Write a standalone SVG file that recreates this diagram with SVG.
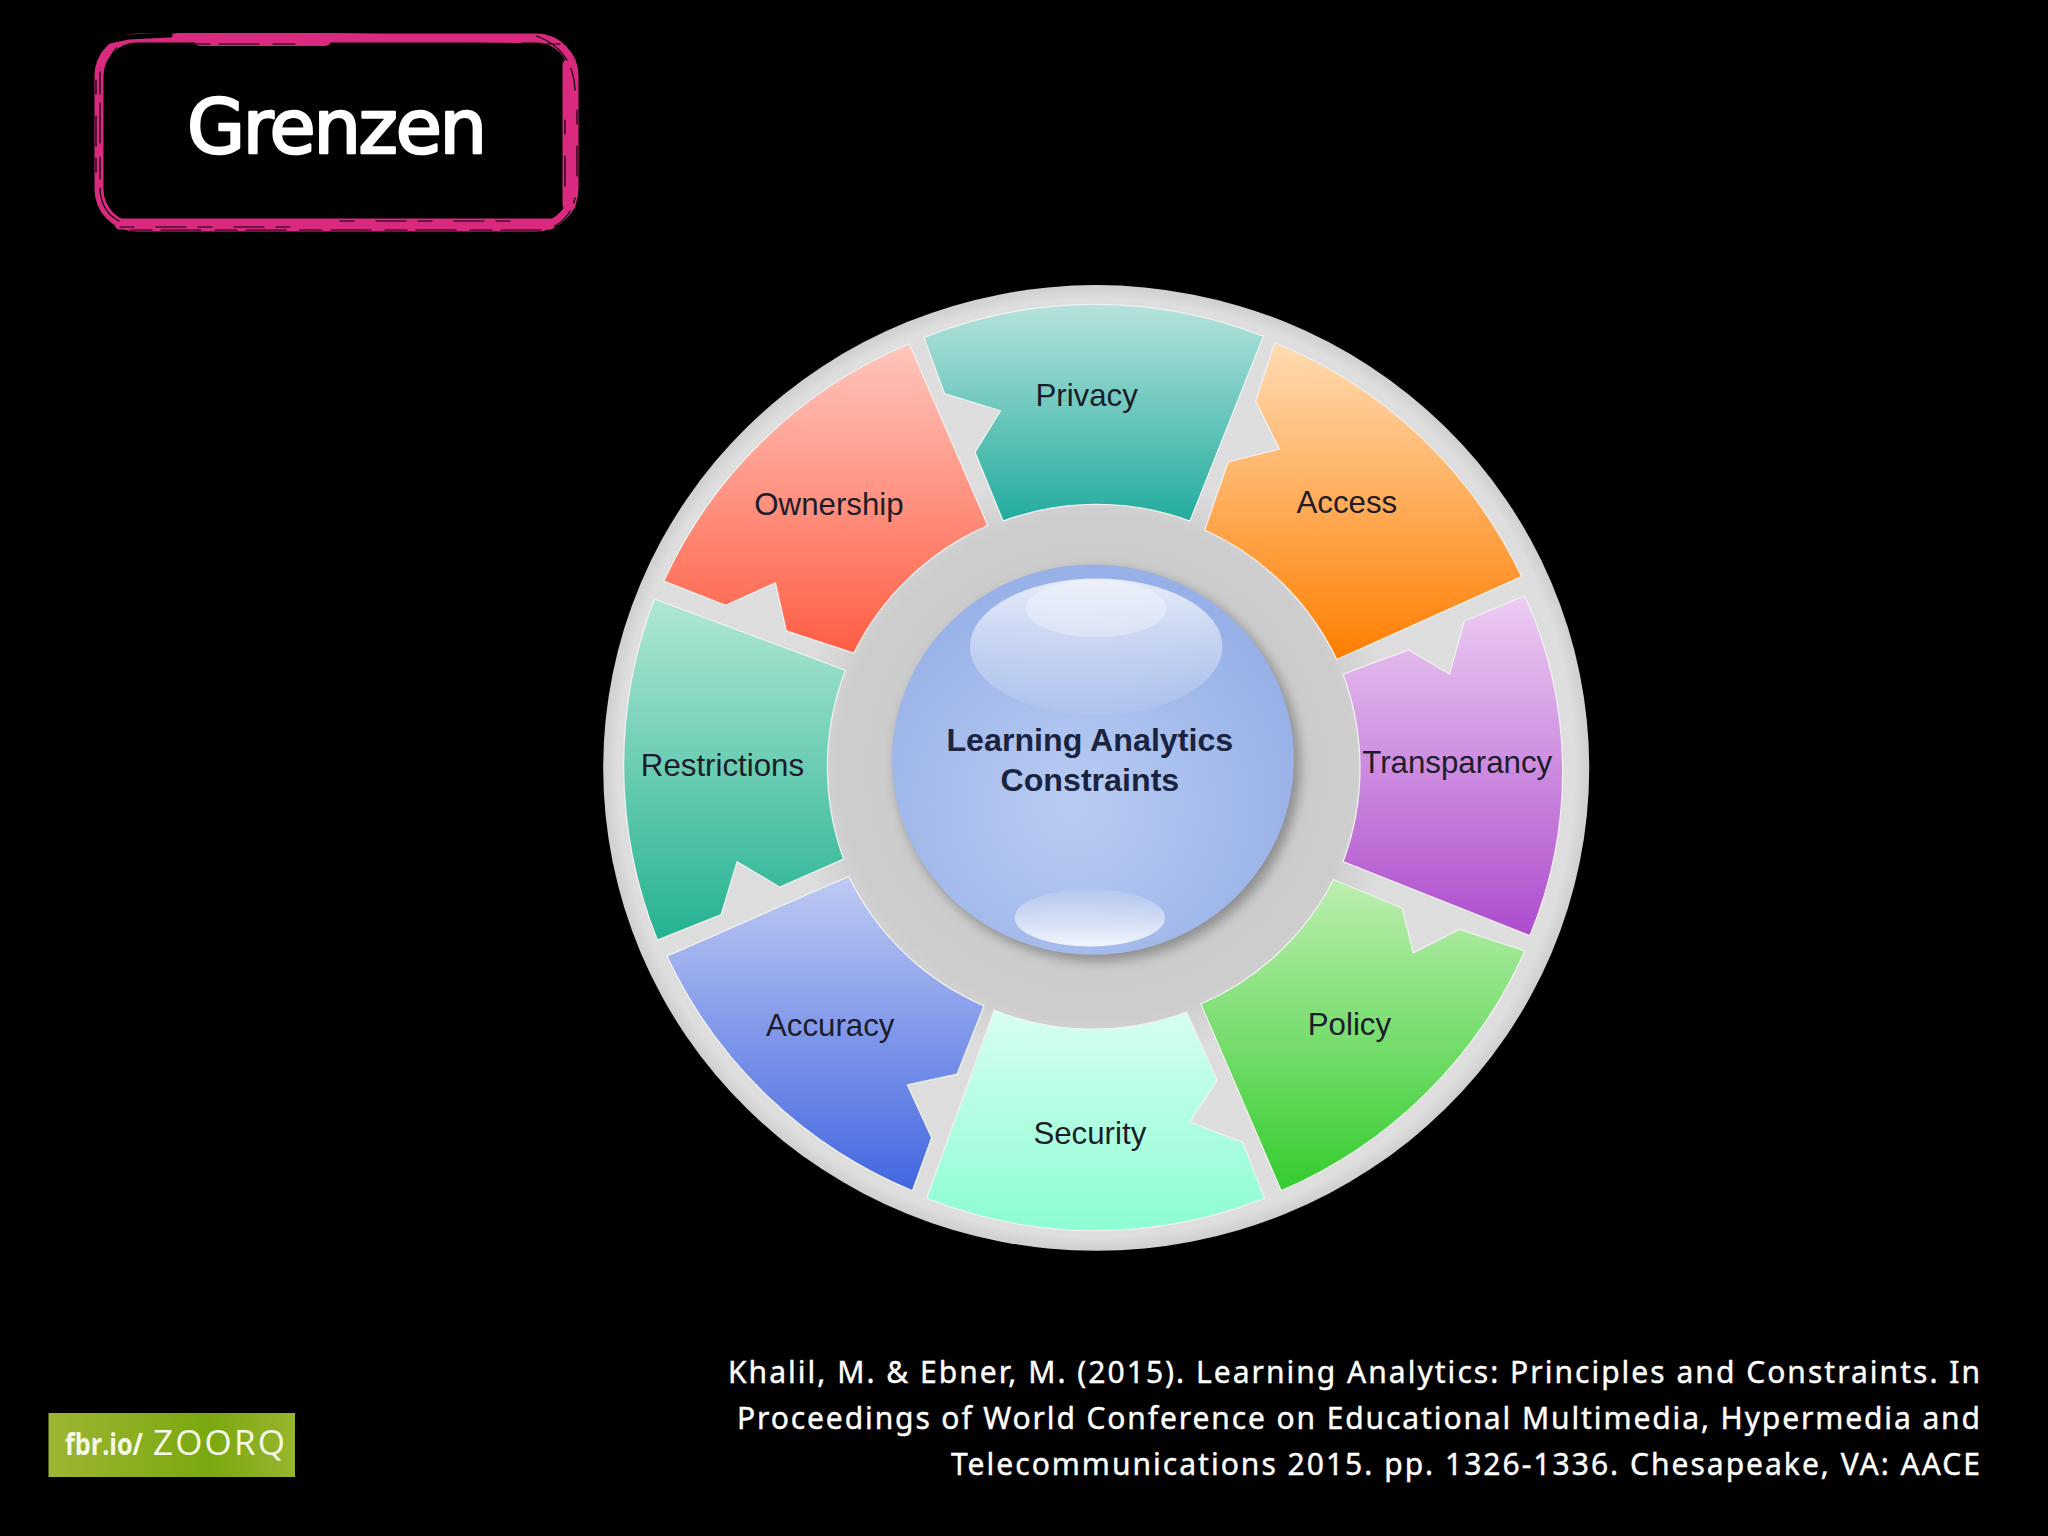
<svg xmlns="http://www.w3.org/2000/svg" width="2048" height="1536" viewBox="0 0 2048 1536">
<style>
.seg{stroke:#f0f0f0;stroke-width:2;stroke-linejoin:round}
.lbl{font-family:"Liberation Sans",Arial,sans-serif;font-size:49px;fill:#1d1d2a;text-anchor:middle}
.ctr{font-family:"Liberation Sans",Arial,sans-serif;font-size:50.500px;font-weight:bold;fill:#1a2440;text-anchor:middle}
.cite{font-family:"Noto Sans",sans-serif;font-size:30px;fill:#fff;stroke:#fff;stroke-width:0.4}
.rough{fill:none;stroke:#000;stroke-linecap:round}
</style>
<defs>
<linearGradient id="gPrivacy" x1="0" y1="0" x2="0" y2="1"><stop offset="0" stop-color="#b5e3dd"/><stop offset="1" stop-color="#22ac9d"/></linearGradient>
<linearGradient id="gAccess" x1="0" y1="0" x2="0" y2="1"><stop offset="0" stop-color="#ffdcb4"/><stop offset="1" stop-color="#ff7e00"/></linearGradient>
<linearGradient id="gTrans" x1="0" y1="0" x2="0" y2="1"><stop offset="0" stop-color="#edcdf3"/><stop offset="1" stop-color="#ad4ccd"/></linearGradient>
<linearGradient id="gPolicy" x1="0" y1="0" x2="0" y2="1"><stop offset="0" stop-color="#bdefb0"/><stop offset="1" stop-color="#34cc2e"/></linearGradient>
<linearGradient id="gSecurity" x1="0" y1="0" x2="0" y2="1"><stop offset="0" stop-color="#d6fff1"/><stop offset="1" stop-color="#8cfdd2"/></linearGradient>
<linearGradient id="gAccuracy" x1="0" y1="0" x2="0" y2="1"><stop offset="0" stop-color="#bfcaf3"/><stop offset="1" stop-color="#4266e0"/></linearGradient>
<linearGradient id="gRestrict" x1="0" y1="0" x2="0" y2="1"><stop offset="0" stop-color="#b0e7d5"/><stop offset="1" stop-color="#24b291"/></linearGradient>
<linearGradient id="gOwner" x1="0" y1="0" x2="0" y2="1"><stop offset="0" stop-color="#ffc6bd"/><stop offset="1" stop-color="#ff5e44"/></linearGradient>
<radialGradient id="gDisc" cx="0.5" cy="0.5" r="0.5"><stop offset="0" stop-color="#c8c8c8"/><stop offset="0.52" stop-color="#cdcdcd"/><stop offset="0.62" stop-color="#dddddd"/><stop offset="0.97" stop-color="#dedede"/><stop offset="1" stop-color="#cfcfcf"/></radialGradient>
<radialGradient id="gBall" cx="0.45" cy="0.62" r="0.6"><stop offset="0" stop-color="#b9ccf2"/><stop offset="1" stop-color="#97b0e7"/></radialGradient>
<linearGradient id="gHi" x1="0" y1="0" x2="0" y2="1"><stop offset="0" stop-color="#fff" stop-opacity="0.75"/><stop offset="1" stop-color="#fff" stop-opacity="0.05"/></linearGradient>
<linearGradient id="gHiB" x1="0" y1="0" x2="0" y2="1"><stop offset="0" stop-color="#fff" stop-opacity="0.1"/><stop offset="1" stop-color="#fff" stop-opacity="0.85"/></linearGradient>
<linearGradient id="gLogo" x1="0" y1="0" x2="1" y2="0"><stop offset="0" stop-color="#9db633"/><stop offset="0.65" stop-color="#7aa80e"/><stop offset="1" stop-color="#98b52f"/></linearGradient>
<filter id="blur" x="-20%" y="-20%" width="140%" height="140%"><feGaussianBlur stdDeviation="9"/></filter>
</defs>
<rect width="2048" height="1536" fill="#000"/>

<g id="title">
<g fill="none" stroke="#d92a80" stroke-linecap="round">
<rect x="99" y="38" width="475" height="189" rx="38" stroke-width="9"/>
<path d="M178 36H335L520 40" stroke-width="6"/>
<path d="M200 40H325" stroke-width="12"/>
<path d="M569 65V205" stroke-width="13"/>
<path d="M120 224H550" stroke-width="11"/>
</g>
<path class="rough" stroke-width="1.2" stroke-dasharray="22 9 40 14" d="M100 72V190Q102 218 130 225M130 230H540Q568 227 575 198M575 90Q573 46 530 34M188 44H300M430 44H560"/>
<path class="rough" stroke-width="1.2" stroke-dasharray="14 22 30 12" d="M96 80V180M110 60Q114 44 132 40M120 227H300M340 221H520M577 110V180M565 120V190"/>
<path class="rough" stroke-width="5" d="M100 43L128 37L170 35"/>
<text x="187" y="153" font-family="'DejaVu Sans',sans-serif" font-size="75" fill="#fff" stroke="#fff" stroke-width="2.5" stroke-linejoin="round" textLength="300" lengthAdjust="spacing">Grenzen</text>
</g>

<g id="wheel" transform="translate(600 280) scale(0.6378)">
<ellipse cx="778" cy="765" rx="773" ry="757" fill="url(#gDisc)"/>
<g id="hub-shadow"><ellipse cx="781" cy="761" rx="317" ry="307" fill="#666" opacity="0.6" filter="url(#blur)"/></g>

<g id="privacy"><path class="seg" fill="url(#gPrivacy)" d="M508 90A720 720 0 0 1 1040 88L925 378A420 420 0 0 0 632 378L588 270L628 205L540 178Z"/><text class="lbl" x="763" y="197">Privacy</text></g>
<g id="access"><path class="seg" fill="url(#gAccess)" d="M1058 98A735 735 0 0 1 1445 465L1155 595A420 420 0 0 0 948 392L985 285L1065 265L1028 190Z"/><text class="lbl" x="1171" y="365">Access</text></g>
<g id="transparency"><path class="seg" fill="url(#gTrans)" d="M1450 495A670 670 0 0 1 1458 1028L1165 912A420 420 0 0 0 1165 618L1268 580L1332 618L1355 535Z"/><text class="lbl" x="1344" y="773">Transparancy</text></g>
<g id="policy"><path class="seg" fill="url(#gPolicy)" d="M1150 940L1258 985L1275 1055L1348 1018L1450 1052A735 735 0 0 1 1068 1428L942 1135A420 420 0 0 0 1150 940Z"/><text class="lbl" x="1175" y="1184">Policy</text></g>
<g id="security"><path class="seg" fill="url(#gSecurity)" d="M618 1145A420 420 0 0 0 920 1148L968 1255L925 1320L1008 1352L1042 1440A720 720 0 0 1 512 1440Z"/><text class="lbl" x="768" y="1354">Security</text></g>
<g id="accuracy"><path class="seg" fill="url(#gAccuracy)" d="M390 935A420 420 0 0 0 602 1138L560 1245L482 1262L520 1345L490 1428A735 735 0 0 1 105 1060Z"/><text class="lbl" x="361" y="1185">Accuracy</text></g>
<g id="restrictions"><path class="seg" fill="url(#gRestrict)" d="M85 500L385 612A420 420 0 0 0 382 908L282 952L215 912L190 995L90 1035A735 735 0 0 1 85 500Z"/><text class="lbl" x="192" y="777">Restrictions</text></g>
<g id="ownership"><path class="seg" fill="url(#gOwner)" d="M485 100L608 385A420 420 0 0 0 398 585L292 550L275 475L197 510L100 472A735 735 0 0 1 485 100Z"/><text class="lbl" x="359" y="369">Ownership</text></g>

<g id="hub">
<ellipse cx="773" cy="752" rx="315" ry="306" fill="url(#gBall)"/>
<ellipse cx="778" cy="575" rx="198" ry="107" fill="url(#gHi)"/>
<ellipse cx="778" cy="515" rx="110" ry="45" fill="#fff" opacity="0.3"/>
<ellipse cx="768" cy="1000" rx="118" ry="45" fill="url(#gHiB)"/>
<text class="ctr" x="768" y="739">Learning Analytics</text>
<text class="ctr" x="768" y="801">Constraints</text>
</g>
</g>

<g id="logo">
<rect x="48.500" y="1413" width="246.500" height="64" fill="url(#gLogo)"/>
<text x="65" y="1455" font-family="'Open Sans',sans-serif" font-weight="bold" font-size="30" fill="#f6f8e8" textLength="78" lengthAdjust="spacingAndGlyphs">fbr.io/</text>
<text x="153" y="1455" font-family="'Open Sans',sans-serif" font-size="35" fill="#f6f8e8" textLength="132" lengthAdjust="spacing">ZOORQ</text>
</g>

<g id="citation">
<text class="cite" x="728" y="1383" textLength="1252">Khalil, M. &amp; Ebner, M. (2015). Learning Analytics: Principles and Constraints. In</text>
<text class="cite" x="737" y="1429" textLength="1243">Proceedings of World Conference on Educational Multimedia, Hypermedia and</text>
<text class="cite" x="951" y="1475" textLength="1029">Telecommunications 2015. pp. 1326-1336. Chesapeake, VA: AACE</text>
</g>
</svg>
